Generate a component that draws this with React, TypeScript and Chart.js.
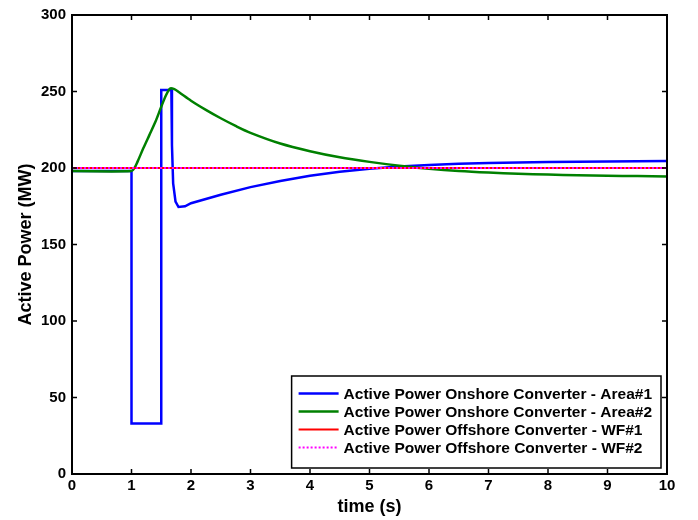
import React, { useEffect, useRef } from "react";
import { Chart, registerables } from "chart.js";
Chart.register(...registerables);

// ---- data ----
const blueT = [0, 1.0, 1.0, 1.5, 1.5, 1.67, 1.68, 1.7, 1.74, 1.79, 1.9, 2.0, 2.5, 3.0, 3.5, 4.0, 4.5, 5.0, 5.5, 6.0, 6.5, 7.0, 8.0, 9.0, 10.0];
const blueP = [198, 198, 33, 33, 251, 251, 215, 190, 178, 174.5, 175, 177, 182.5, 187.5, 191.5, 195, 197.5, 199.5, 201, 202, 202.8, 203.3, 203.9, 204.3, 204.6];

const greenT = [0, 1.0, 1.05, 1.1, 1.2, 1.3, 1.4, 1.5, 1.58, 1.65, 1.72, 1.8, 2.0, 2.25, 2.5, 2.75, 3.0, 3.5, 4.0, 4.5, 5.0, 5.5, 6.0, 6.5, 7.0, 7.5, 8.0, 8.5, 9.0, 9.5, 10.0];
const greenP = [198, 198, 200, 204, 213, 221.5, 230, 240, 247.5, 252, 251.5, 249.5, 244, 238, 232.5, 227.5, 223, 216, 211, 207, 204, 201.5, 199.5, 198, 197, 196.3, 195.7, 195.2, 194.9, 194.7, 194.5];

const redT = [0, 10];
const redP = [200, 200];

const magentaT = [0, 10];
const magentaP = [200, 200];

const seriesLabels = [
  "Active Power Onshore Converter - Area#1",
  "Active Power Onshore Converter - Area#2",
  "Active Power Offshore Converter - WF#1",
  "Active Power Offshore Converter - WF#2",
];
const xTickValues = [0, 1, 2, 3, 4, 5, 6, 7, 8, 9, 10];
const yTickValues = [0, 50, 100, 150, 200, 250, 300];

const FONT = '"Liberation Sans", Arial, Helvetica, sans-serif';

const toXY = (t: number[], p: number[]) => t.map((x, i) => ({ x, y: p[i] }));

const framePlugin = {
  id: "frame",
  afterDatasetsDraw(chart: any) {
    const { ctx, chartArea: ca, scales } = chart;
    ctx.save();
    ctx.strokeStyle = "#000";
    ctx.lineWidth = 2;
    ctx.strokeRect(ca.left, ca.top, ca.right - ca.left, ca.bottom - ca.top);
    const tl = 5;
    ctx.lineWidth = 1.5;
    ctx.beginPath();
    for (const v of xTickValues) {
      const px = scales.x.getPixelForValue(v);
      ctx.moveTo(px, ca.bottom);
      ctx.lineTo(px, ca.bottom - tl);
      ctx.moveTo(px, ca.top);
      ctx.lineTo(px, ca.top + tl);
    }
    for (const v of yTickValues) {
      const py = scales.y.getPixelForValue(v);
      ctx.moveTo(ca.left, py);
      ctx.lineTo(ca.left + tl, py);
      ctx.moveTo(ca.right, py);
      ctx.lineTo(ca.right - tl, py);
    }
    ctx.stroke();
    ctx.restore();
  },
  afterDraw(chart: any) {
    const { ctx, chartArea: ca } = chart;
    ctx.save();
    ctx.font = `bold 15.5px ${FONT}`;
    const maxW = Math.max(...seriesLabels.map((l) => ctx.measureText(l).width));
    const padL = 7, lineLen = 40, gap = 5, padR = 9;
    const boxW = padL + lineLen + gap + maxW + padR;
    const boxH = 92;
    const right = ca.right - 6;
    const bottom = ca.bottom - 6;
    const left = right - boxW;
    const top = bottom - boxH;
    ctx.fillStyle = "#fff";
    ctx.fillRect(left, top, boxW, boxH);
    ctx.strokeStyle = "#000";
    ctx.lineWidth = 1.5;
    ctx.strokeRect(left, top, boxW, boxH);
    chart.data.datasets.forEach((ds: any, i: number) => {
      const y = top + 17.5 + i * 18;
      ctx.beginPath();
      ctx.strokeStyle = ds.borderColor;
      ctx.lineWidth = ds.borderWidth;
      ctx.setLineDash(ds.borderDash || []);
      ctx.moveTo(left + padL, y);
      ctx.lineTo(left + padL + lineLen, y);
      ctx.stroke();
      ctx.setLineDash([]);
      ctx.fillStyle = "#000";
      ctx.textBaseline = "middle";
      ctx.textAlign = "left";
      ctx.fillText(seriesLabels[i], left + padL + lineLen + gap, y + 1);
    });
    ctx.restore();
  },
};

export default function App() {
  const ref = useRef<HTMLCanvasElement>(null);
  useEffect(() => {
    const canvas = ref.current!;
    const chart = new Chart(canvas, {
      type: "line",
      data: {
        datasets: [
          { label: seriesLabels[0], data: toXY(blueT, blueP), borderColor: "#0000ff", borderWidth: 2.5, pointRadius: 0, order: 4, tension: 0 },
          { label: seriesLabels[1], data: toXY(greenT, greenP), borderColor: "#008000", borderWidth: 2.5, pointRadius: 0, order: 3, tension: 0.3 },
          { label: seriesLabels[2], data: toXY(redT, redP), borderColor: "#ff0000", borderWidth: 2, pointRadius: 0, order: 2 },
          { label: seriesLabels[3], data: toXY(magentaT, magentaP), borderColor: "#ff00ff", borderWidth: 2, borderDash: [2, 2], pointRadius: 0, order: 1 },
        ],
      },
      options: {
        responsive: false,
        animation: false,
        layout: { padding: { left: 0, top: 9, right: 31, bottom: 0 } },
        plugins: { legend: { display: false }, tooltip: { enabled: false } },
        scales: {
          x: {
            type: "linear",
            min: 0,
            max: 10,
            grid: { display: false, drawTicks: false },
            border: { display: false },
            ticks: { stepSize: 1, color: "#000", padding: 3, font: { family: FONT, size: 15, weight: "bold" } },
            title: { display: true, text: "time (s)", color: "#000", padding: { top: 0, bottom: 2 }, font: { family: FONT, size: 18, weight: "bold" } },
            afterFit: (s: any) => { s.height = 46; },
          },
          y: {
            type: "linear",
            min: 0,
            max: 300,
            grid: { display: false, drawTicks: false },
            border: { display: false },
            ticks: { stepSize: 50, color: "#000", padding: 6, font: { family: FONT, size: 15, weight: "bold" } },
            title: { display: true, text: "Active Power (MW)", color: "#000", padding: { top: 15, bottom: 0 }, font: { family: FONT, size: 18, weight: "bold" } },
            afterFit: (s: any) => { s.width = 72; },
          },
        },
      },
      plugins: [framePlugin],
    } as any);
    return () => chart.destroy();
  }, []);
  return (
    <div style={{ position: "fixed", left: 0, top: 0, width: 698, height: 520, background: "#fff" }}>
      <canvas ref={ref} width={698} height={520} />
    </div>
  );
}
